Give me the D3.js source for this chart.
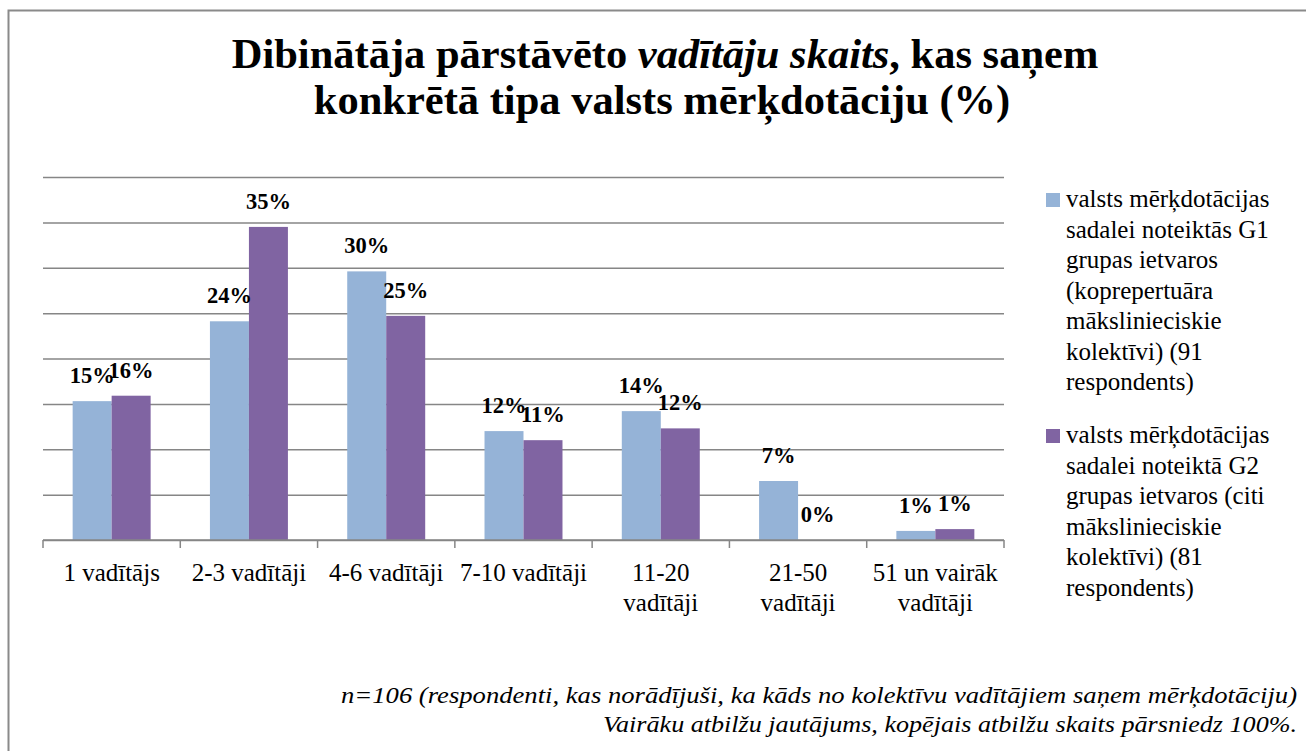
<!DOCTYPE html>
<html>
<head>
<meta charset="utf-8">
<script src="https://cdn.jsdelivr.net/npm/d3@7"></script>
<style>
  body { margin: 0; background: #fff; }
</style>
</head>
<body>
<div id="chart"></div>
<script>
// chart data
var categories = ["1 vadītājs", "2-3 vadītāji", "4-6 vadītāji", "7-10 vadītāji", "11-20 vadītāji", "21-50 vadītāji", "51 un vairāk vadītāji"];
var tickLabels = [["1 vadītājs"], ["2-3 vadītāji"], ["4-6 vadītāji"], ["7-10 vadītāji"], ["11-20", "vadītāji"], ["21-50", "vadītāji"], ["51 un vairāk", "vadītāji"]];
var g1Values = [15.3, 24.1, 29.6, 12.0, 14.2, 6.5, 1.0];
var g2Values = [15.9, 34.5, 24.7, 11.0, 12.3, 0, 1.2];
var seriesNames = [
    ["valsts mērķdotācijas", "sadalei noteiktās G1", "grupas ietvaros", "(koprepertuāra", "mākslinieciskie", "kolektīvi) (91", "respondents)"],
    ["valsts mērķdotācijas", "sadalei noteiktā G2", "grupas ietvaros (citi", "mākslinieciskie", "kolektīvi) (81", "respondents)"]
];
var yTicks = [0, 5, 10, 15, 20, 25, 30, 35, 40];
var colors = ["#95B3D7", "#8064A2"];

var svgWidth = 1306;
var svgHeight = 751;
var margin = { top: 177, left: 43, right: 302, bottom: 211 };
var width = svgWidth - margin.left - margin.right;
var height = svgHeight - margin.top - margin.bottom;

var svg = d3.select("#chart")
    .append("svg")
    .attr("width", svgWidth)
    .attr("height", svgHeight)
    .style("font-family", "'Liberation Serif'");

// outer border
svg.append("rect")
    .attr("x", 8.5).attr("y", 10.5)
    .attr("width", 1320).attr("height", 760)
    .attr("fill", "none")
    .attr("stroke", "#8a8a8a")
    .attr("stroke-width", 2);

// title
var title = svg.append("text")
    .attr("text-anchor", "middle")
    .attr("font-weight", "bold")
    .attr("font-size", "42.5px");
var t1 = title.append("tspan").attr("x", 665).attr("y", 68);
t1.append("tspan").text("Dibinātāja pārstāvēto ");
t1.append("tspan").attr("font-style", "italic").text("vadītāju skaits");
t1.append("tspan").text(", kas saņem");
title.append("tspan").attr("x", 662).attr("y", 114).text("konkrētā tipa valsts mērķdotāciju (%)");

var chart = svg.append("g")
    .attr("transform", `translate(${margin.left}, ${margin.top})`);

var x = d3.scaleBand()
    .domain(categories)
    .range([0, width])
    .paddingInner(0.432)
    .paddingOuter(0.216);

var xSub = d3.scaleBand()
    .domain([0, 1])
    .range([0, x.bandwidth()]);

var y = d3.scaleLinear()
    .domain([0, 40])
    .range([height, 0]);

// gridlines
var grid = chart.append("g")
    .call(d3.axisLeft(y).tickValues(yTicks).tickSize(-width).tickFormat(""));
grid.select(".domain").remove();
grid.selectAll("line").attr("stroke", "#868686").attr("stroke-width", 1.5);

// bars
var rows = categories.map(function(c, i) {
    return { cat: c, vals: [g1Values[i], g2Values[i]] };
});

var groups = chart.selectAll(".grp")
    .data(rows)
    .enter()
    .append("g")
    .attr("transform", d => `translate(${x(d.cat)}, 0)`);

groups.selectAll("rect")
    .data(d => d.vals.map((v, k) => ({ k: k, v: v })))
    .enter()
    .append("rect")
    .attr("x", d => xSub(d.k))
    .attr("width", xSub.bandwidth())
    .attr("y", d => y(d.v))
    .attr("height", d => height - y(d.v))
    .attr("fill", d => colors[d.k]);

groups.selectAll(".lbl")
    .data(d => d.vals.map((v, k) => ({ k: k, v: v })))
    .enter()
    .append("text")
    .attr("x", d => xSub(d.k) + xSub.bandwidth() / 2)
    .attr("y", d => y(d.v) - 18)
    .attr("text-anchor", "middle")
    .attr("font-weight", "bold")
    .attr("font-size", "22.5px")
    .text(d => Math.round(d.v) + "%");

// x axis with boundary ticks
var xAxis = chart.append("g")
    .attr("transform", `translate(0, ${height})`);
xAxis.append("line")
    .attr("x1", 0).attr("x2", width)
    .attr("stroke", "#868686").attr("stroke-width", 1.5);
xAxis.selectAll(".tk")
    .data(d3.range(categories.length + 1))
    .enter()
    .append("line")
    .attr("x1", i => i * x.step())
    .attr("x2", i => i * x.step())
    .attr("y1", 0).attr("y2", 8)
    .attr("stroke", "#868686").attr("stroke-width", 1.5);

var tl = xAxis.selectAll(".tl")
    .data(categories)
    .enter()
    .append("text")
    .attr("text-anchor", "middle")
    .attr("font-size", "25px");
tl.each(function(c, i) {
    var el = d3.select(this);
    tickLabels[i].forEach(function(line, j) {
        el.append("tspan")
            .attr("x", x(c) + x.bandwidth() / 2)
            .attr("y", 41 + j * 30)
            .text(line);
    });
});

// legend
var legendTop = [193, 429];
seriesNames.forEach(function(lines, k) {
    svg.append("rect")
        .attr("x", 1046).attr("y", legendTop[k])
        .attr("width", 14).attr("height", 14)
        .attr("fill", colors[k]);
    var t = svg.append("text").attr("font-size", "25px");
    lines.forEach(function(line, j) {
        t.append("tspan")
            .attr("x", 1066)
            .attr("y", legendTop[k] + 14 + j * 30.5)
            .text(line);
    });
});

// footnote
svg.append("text")
    .attr("x", 1297).attr("y", 703)
    .attr("text-anchor", "end")
    .attr("font-style", "italic")
    .attr("font-size", "24px")
    .attr("textLength", 956)
    .attr("lengthAdjust", "spacingAndGlyphs")
    .text("n=106 (respondenti, kas norādījuši, ka kāds no kolektīvu vadītājiem saņem mērķdotāciju)");
svg.append("text")
    .attr("x", 1297).attr("y", 732)
    .attr("text-anchor", "end")
    .attr("font-style", "italic")
    .attr("font-size", "24px")
    .attr("textLength", 694)
    .attr("lengthAdjust", "spacingAndGlyphs")
    .text("Vairāku atbilžu jautājums, kopējais atbilžu skaits pārsniedz 100%.");

// serif font on every text node
svg.selectAll("text, tspan").style("font-family", "'Liberation Serif'");
</script>
</body>
</html>
